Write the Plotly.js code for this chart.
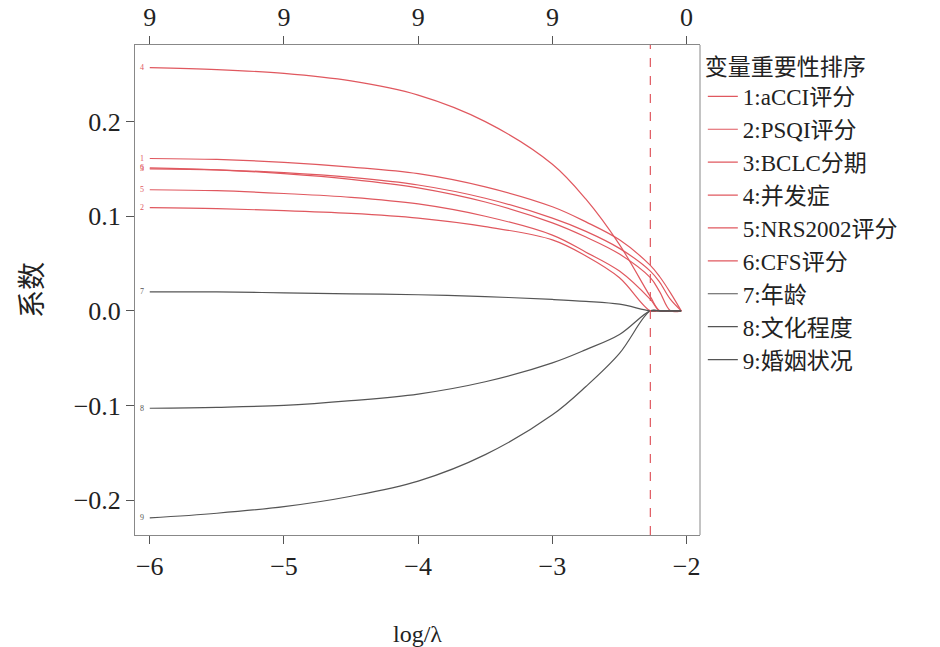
<!DOCTYPE html>
<html><head><meta charset="utf-8">
<script src="https://cdn.plot.ly/plotly-3.0.1.min.js"></script>
<style>body{margin:0;background:#fff}</style></head>
<body><div id="chart" style="width:940px;height:647px"></div>
<script>
// log(lambda) sample points and coefficient
var xs = [-6, -5.5, -5, -4.5, -4, -3.5, -3, -2.75, -2.5, -2.27, -2.2, -2.12, -2.04];
var names = ['1:aCCI评分','2:PSQI评分','3:BCLC分期','4:并发症','5:NRS2002评分','6:CFS评分','7:年龄','8:文化程度','9:婚姻状况'];
var labels = ['1','2','3','4','5','6','7','8','9'];
var c1 = [0.161,0.160,0.157,0.152,0.145,0.131,0.110,0.094,0.075,0.048,0.036,0.019,0];
var c2 = [0.109,0.108,0.106,0.103,0.098,0.089,0.075,0.058,0.035,0,0,0,0];
var c3 = [0.150,0.149,0.146,0.141,0.133,0.119,0.098,0.084,0.066,0.042,0.030,0.012,0];
var c4 = [0.257,0.255,0.251,0.243,0.228,0.200,0.155,0.118,0.070,0.015,0,0,0];
var c5 = [0.128,0.127,0.124,0.120,0.113,0.100,0.080,0.062,0.042,0.012,0,0,0];
var c6 = [0.151,0.149,0.145,0.139,0.130,0.115,0.093,0.078,0.060,0.035,0.020,0,0];
var c7 = [0.020,0.020,0.019,0.018,0.017,0.015,0.012,0.010,0.007,0,0,0,0];
var c8 = [-0.103,-0.102,-0.100,-0.095,-0.088,-0.075,-0.055,-0.041,-0.025,0,0,0,0];
var c9 = [-0.219,-0.214,-0.207,-0.196,-0.180,-0.152,-0.110,-0.080,-0.045,0,0,0,0];
var coefs = [c1,c2,c3,c4,c5,c6,c7,c8,c9];
var topTicks = [-6,-5,-4,-3,-2];
var topLabels = ['9','9','9','9','0'];
var cutoff = -2.27;

var red = '#e0585f', grey = '#555555';
var data = coefs.map(function(c,i){
  return {x: xs, y: c, type:'scatter', mode:'lines', name: names[i],
    line:{color: i<6 ? red : grey, width:1.2, shape:'spline', smoothing:1.0}};
});
data.push({x: topTicks, y: [0,0,0,0,0], xaxis:'x2', mode:'markers', marker:{opacity:0}, showlegend:false, hoverinfo:'skip'});

var ann = coefs.map(function(c,i){
  return {x:-6.06, y:c[0], text:labels[i], showarrow:false, xref:'x', yref:'y',
    font:{size:8, color: i<6 ? red : grey}};
});
var serif = 'Liberation Serif, Noto Sans CJK SC, serif';
var layout = {
  width:940, height:647, paper_bgcolor:'#fff', plot_bgcolor:'#fff',
  margin:{l:135, r:240, t:45, b:112},
  font:{family:serif, size:26, color:'#222'},
  xaxis:{range:[-6.11,-1.9], tickvals:[-6,-5,-4,-3,-2], ticktext:['−6','−5','−4','−3','−2'],
    showgrid:false, zeroline:false, showline:true, linecolor:'#888', mirror:false,
    ticks:'outside', ticklen:8, tickcolor:'#555', title:{text:'log/λ', standoff:45, font:{size:24}}},
  xaxis2:{overlaying:'x', side:'top', range:[-6.11,-1.9], tickvals:topTicks, ticktext:topLabels,
    showgrid:false, zeroline:false, showline:true, linecolor:'#888', ticks:'outside', ticklen:8, tickcolor:'#555'},
  yaxis:{range:[-0.237,0.281], tickvals:[-0.2,-0.1,0,0.1,0.2], ticktext:['−0.2','−0.1','0.0','0.1','0.2'],
    showgrid:false, zeroline:false, showline:true, linecolor:'#888', ticks:'outside', ticklen:8, tickcolor:'#555',
    title:{text:'系数', standoff:22, font:{family:'Noto Sans CJK SC', size:28}}},
  shapes:[
    {type:'line', xref:'x', yref:'paper', x0:cutoff, x1:cutoff, y0:0, y1:1, line:{color:red, width:1.2, dash:'dash'}},
    {type:'line', xref:'paper', yref:'paper', x0:1, x1:1, y0:0, y1:1, line:{color:'#888', width:1}}
  ],
  annotations: ann,
  legend:{x:1.005, y:1.0, xanchor:'left', yanchor:'top', font:{size:23, family:serif},
    title:{text:'变量重要性排序', font:{size:23, family:'Noto Sans CJK SC'}},
    tracegroupgap:0, itemwidth:30},
  showlegend:true
};
Plotly.newPlot('chart', data, layout, {displayModeBar:false});
</script></body></html>
